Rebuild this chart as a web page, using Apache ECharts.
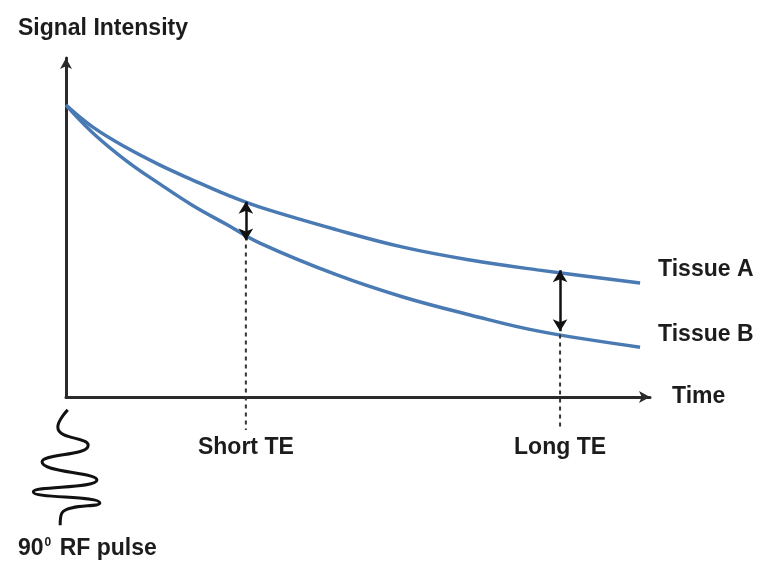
<!DOCTYPE html>
<html lang="en">
<head>
    <meta charset="UTF-8">
    <title>T2 decay</title>
</head>
<body style="margin:0;background:#fff">
<div id="decay" style="width:764px;height:563px"></div>
<script src="https://cdn.jsdelivr.net/npm/echarts@6/dist/echarts.min.js"></script>
<script type="text/javascript">
    // time (0-100) and signal (0-100)
    var timeAxis = [0, 4.6, 10.4, 16.1, 21.7, 27.6, 33.2, 46.4, 57.7, 69.2, 80.7, 98.3];
    var tissueA = [86.1, 79.6, 73.5, 68.4, 64.0, 59.6, 56.0, 49.3, 44.2, 40.4, 37.5, 33.6];
    var tissueB = [86.1, 77.9, 69.6, 62.8, 56.5, 50.8, 45.4, 36.0, 29.5, 24.2, 19.5, 14.7];

    // echo times and the arrows between the curves
    var teNames = ['Short TE', 'Long TE'];
    var teTimes = [30.8, 84.6];
    var arrowTop = [57.6, 37.4];
    var arrowBottom = [46.2, 19.4];
    var dashTop = [45.0, 18.4];
    var dashBottom = -9.7;

    // 90 degree RF pulse squiggle under the origin (same units, own small grid)
    var pulseX = [0.3, -1.4, 3.8, -4.1, 5.3, -5.6, 5.8, -0.7, -1.0];
    var pulseY = [-3.8, -8.9, -14.2, -19.2, -24.5, -28.0, -31.3, -34.2, -37.8];

    var font = 'Liberation Sans';
    var textColor = '#1c1c1c';
    var curveColor = '#4a7ab3';

    function zip(xs, ys) {
        var out = [];
        for (var i = 0; i < xs.length; i++) out.push([xs[i], ys[i]]);
        return out;
    }

    var chart = echarts.init(document.getElementById('decay'));

    var labelStyle = {fontFamily: font, fontWeight: 'bold', fontSize: 23, color: textColor};

    var series = [
        {
            name: 'Tissue A',
            type: 'line',
            smooth: 0.4,
            symbol: 'none',
            data: zip(timeAxis, tissueA),
            lineStyle: {color: curveColor, width: 3.5},
            endLabel: Object.assign({show: true, formatter: 'Tissue A', offset: [10, -13]}, labelStyle)
        },
        {
            name: 'Tissue B',
            type: 'line',
            smooth: 0.4,
            symbol: 'none',
            data: zip(timeAxis, tissueB),
            lineStyle: {color: curveColor, width: 3.5},
            endLabel: Object.assign({show: true, formatter: 'Tissue B', offset: [10, -13]}, labelStyle)
        },
        {
            name: 'arrows',
            type: 'line',
            data: [],
            markLine: {
                silent: true,
                symbol: ['arrow', 'arrow'],
                symbolSize: [11, 12],
                label: {show: false},
                lineStyle: {color: '#111', width: 2.5, type: 'solid'},
                data: teTimes.map(function (t, i) {
                    return [{coord: [t, arrowTop[i]]}, {coord: [t, arrowBottom[i]]}];
                })
            }
        },
        {
            name: 'pulse',
            type: 'line',
            xAxisIndex: 1,
            yAxisIndex: 1,
            smooth: 0.55,
            clip: false,
            symbol: 'none',
            data: zip(pulseX, pulseY),
            lineStyle: {color: '#111', width: 3}
        }
    ];

    teTimes.forEach(function (t, i) {
        series.push({
            name: teNames[i],
            type: 'line',
            clip: false,
            symbol: 'circle',
            symbolSize: 1,
            itemStyle: {color: 'rgba(0,0,0,0)'},
            lineStyle: {color: '#333', width: 2, type: [4, 4]},
            data: [
                [t, dashTop[i]],
                {
                    value: [t, dashBottom],
                    label: Object.assign({show: true, position: 'bottom', distance: 6, formatter: teNames[i]}, labelStyle)
                }
            ]
        });
    });

    var hiddenAxis = {show: false};

    var option = {
        animation: false,
        title: [
            {
                text: 'Signal Intensity', left: 13, top: 12,
                textStyle: labelStyle
            },
            {
                text: '90{s|0} RF pulse', left: 13, top: 532,
                textStyle: Object.assign({
                    rich: {s: {fontFamily: font, fontWeight: 'bold', fontSize: 12, color: textColor, verticalAlign: 'top', padding: [0, 2, 10, 1]}}
                }, labelStyle)
            }
        ],
        grid: [
            {left: 66, right: 114, top: 58, bottom: 166},
            {left: 7.6, width: 116.8, top: 397, height: 135.6}
        ],
        xAxis: [
            {
                type: 'value', min: 0, max: 100, gridIndex: 0,
                name: 'Time', nameLocation: 'end', nameGap: 22,
                nameTextStyle: Object.assign({padding: [6, 0, 0, 0]}, labelStyle),
                axisLine: {show: true, symbol: ['none', 'arrow'], symbolSize: [9, 11], lineStyle: {color: '#2a2a2a', width: 3}},
                axisTick: {show: false}, axisLabel: {show: false}, splitLine: {show: false}
            },
            Object.assign({type: 'value', min: -10, max: 10, gridIndex: 1}, hiddenAxis)
        ],
        yAxis: [
            {
                type: 'value', min: 0, max: 100, gridIndex: 0,
                axisLine: {show: true, symbol: ['none', 'arrow'], symbolSize: [9, 11], lineStyle: {color: '#2a2a2a', width: 3}},
                axisTick: {show: false}, axisLabel: {show: false}, splitLine: {show: false}
            },
            Object.assign({type: 'value', min: -40, max: 0, gridIndex: 1}, hiddenAxis)
        ],
        series: series
    };

    chart.setOption(option, true);
</script>
</body>
</html>
